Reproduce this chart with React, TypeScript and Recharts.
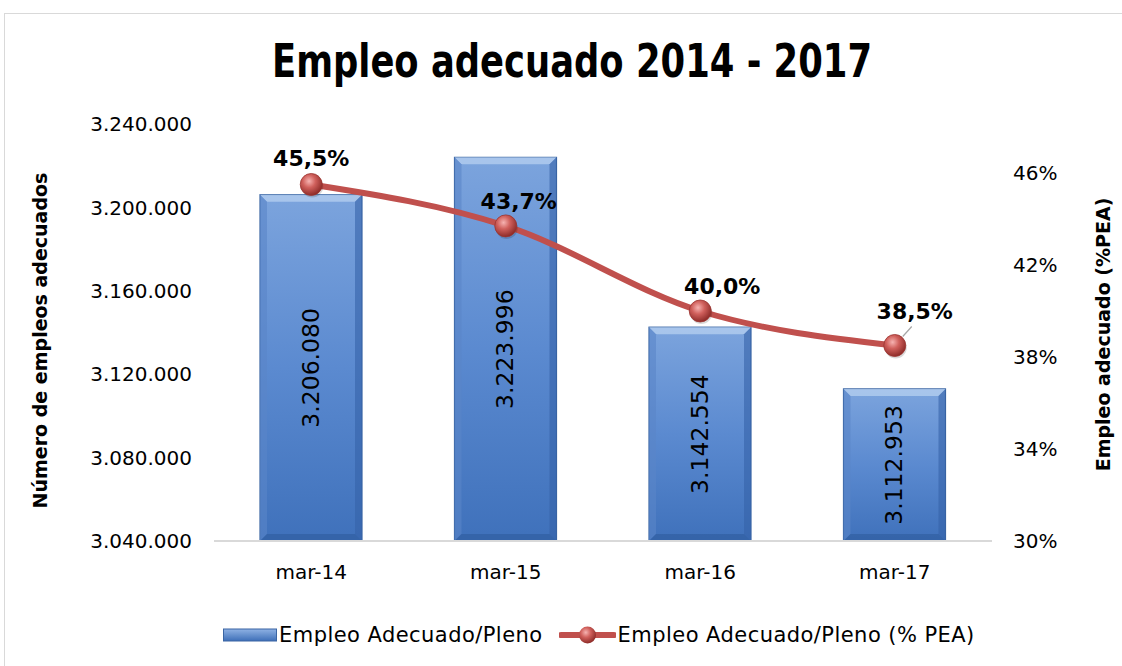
import { Bar, ComposedChart, LabelList, Line, XAxis, YAxis } from "recharts";

const periods = ["mar-14", "mar-15", "mar-16", "mar-17"];
const adequateJobs = [3206080, 3223996, 3142554, 3112953];
const adequateShare = [45.5, 43.7, 40.0, 38.5];
const jobTicks = [3040000, 3080000, 3120000, 3160000, 3200000, 3240000];
const shareTicks = [30, 34, 38, 42, 46];

const data = periods.map((period, i) => ({
  period,
  jobs: adequateJobs[i],
  share: adequateShare[i],
}));

const FONT = "'DejaVu Sans', Tahoma, sans-serif";
const RED = "#c0504d";

// offsets of the % labels relative to their point
const shareLabelShift = [
  { dx: 0, dy: -26 },
  { dx: 13, dy: -24 },
  { dx: 22, dy: -24 },
  { dx: 20, dy: -34 },
];

const fmtThousands = (v: number) => v.toLocaleString("de-DE");

function BevelBar(props: any) {
  const { x, y, width, height } = props;
  if (!height || height <= 0) return null;
  const b = 7;
  return (
    <g>
      <rect x={x} y={y} width={width} height={height} fill="url(#barFill)" stroke="#3a65a3" strokeWidth={1.2} />
      <polygon
        points={`${x},${y} ${x + width},${y} ${x + width - b},${y + b} ${x + b},${y + b}`}
        fill="#b7d0f0"
        opacity={0.75}
      />
      <polygon
        points={`${x},${y} ${x + b},${y + b} ${x + b},${y + height - b} ${x},${y + height}`}
        fill="#5a86c8"
        opacity={0.6}
      />
      <polygon
        points={`${x + width},${y} ${x + width - b},${y + b} ${x + width - b},${y + height - b} ${x + width},${y + height}`}
        fill="#3563a8"
        opacity={0.6}
      />
      <polygon
        points={`${x},${y + height} ${x + b},${y + height - b} ${x + width - b},${y + height - b} ${x + width},${y + height}`}
        fill="#2f5b9c"
        opacity={0.6}
      />
    </g>
  );
}

function BallDot(props: any) {
  const { cx, cy } = props;
  if (cx == null || cy == null) return null;
  return (
    <g>
      <circle cx={cx + 1} cy={cy + 2} r={11} fill="#000" opacity={0.15} />
      <circle cx={cx} cy={cy} r={11} fill="url(#ballFill)" stroke="#9c3330" strokeWidth={0.8} />
    </g>
  );
}

function ShareLabel(props: any) {
  const { x, y, value, index } = props;
  const s = shareLabelShift[index] || { dx: 0, dy: -26 };
  const text = `${Number(value).toFixed(1).replace(".", ",")}%`;
  return (
    <g>
      {index === 3 && (
        <line x1={x + 8} y1={y - 9} x2={x + 17} y2={y - 19} stroke="#a6a6a6" strokeWidth={1.2} />
      )}
      <text
        x={x + s.dx}
        y={y + s.dy}
        textAnchor="middle"
        dominantBaseline="central"
        fontFamily={FONT}
        fontWeight="bold"
        fontSize={22}
        fill="#000"
      >
        {text}
      </text>
    </g>
  );
}

function JobsLabel(props: any) {
  const { x, y, width, height, value } = props;
  const cx = x + width / 2;
  const cy = y + height / 2;
  return (
    <text
      x={cx}
      y={cy}
      transform={`rotate(-90 ${cx} ${cy})`}
      textAnchor="middle"
      dominantBaseline="central"
      fontFamily={FONT}
      fontSize={23.5}
      fill="#000"
    >
      {fmtThousands(value)}
    </text>
  );
}

function Legend() {
  return (
    <div
      style={{
        position: "absolute",
        left: 223,
        top: 623,
        display: "flex",
        alignItems: "center",
        fontFamily: FONT,
        fontSize: 21,
        letterSpacing: 0.45,
        color: "#000",
        whiteSpace: "nowrap",
      }}
    >
      <svg width={54} height={14} style={{ marginRight: 2 }}>
        <defs>
          <linearGradient id="legBar" x1="0" y1="0" x2="0" y2="1">
            <stop offset="0" stopColor="#8fb2e4" />
            <stop offset="1" stopColor="#3e6fb8" />
          </linearGradient>
        </defs>
        <rect x={0.5} y={1} width={53} height={12} fill="url(#legBar)" stroke="#3a65a3" />
      </svg>
      <span style={{ marginRight: 16 }}>Empleo Adecuado/Pleno</span>
      <svg width={57} height={24} style={{ marginRight: 2 }}>
        <defs>
          <radialGradient id="legBall" cx="0.4" cy="0.35" r="0.65">
            <stop offset="0" stopColor="#f6b3b1" />
            <stop offset="0.45" stopColor="#d0605c" />
            <stop offset="1" stopColor="#8e2c29" />
          </radialGradient>
        </defs>
        <line x1={2} y1={12} x2={55} y2={12} stroke={RED} strokeWidth={6} strokeLinecap="round" />
        <circle cx={28.5} cy={12} r={8.5} fill="url(#legBall)" />
      </svg>
      <span>Empleo Adecuado/Pleno (% PEA)</span>
    </div>
  );
}

export default function App() {
  return (
    <div
      style={{
        position: "absolute",
        left: 0,
        top: 0,
        width: 1122,
        height: 666,
        overflow: "hidden",
        background: "#fff",
      }}
    >
      <div
        style={{
          position: "absolute",
          left: 4,
          top: 13,
          width: 1140,
          height: 700,
          border: "1.5px solid #d9d9d9",
        }}
      />
      <svg width={1122} height={100} style={{ position: "absolute", left: 0, top: 0 }}>
        <text
          x={572}
          y={77}
          textAnchor="middle"
          fontFamily={FONT}
          fontWeight="bold"
          fontSize={46}
          textLength={600}
          lengthAdjust="spacingAndGlyphs"
          fill="#000"
        >
          Empleo adecuado 2014 - 2017
        </text>
      </svg>
      <div style={{ position: "absolute", left: 0, top: 0 }}>
        <ComposedChart
          width={1122}
          height={666}
          data={data}
          margin={{ top: 124, right: 40, bottom: 65, left: 24 }}
        >
          <defs>
            <linearGradient id="barFill" x1="0" y1="0" x2="0" y2="1">
              <stop offset="0" stopColor="#7ca4dd" />
              <stop offset="0.5" stopColor="#5b8ad0" />
              <stop offset="1" stopColor="#3f71bb" />
            </linearGradient>
            <radialGradient id="ballFill" cx="0.4" cy="0.35" r="0.65">
              <stop offset="0" stopColor="#f6b3b1" />
              <stop offset="0.45" stopColor="#d0605c" />
              <stop offset="1" stopColor="#8e2c29" />
            </radialGradient>
          </defs>
          <XAxis
            dataKey="period"
            height={60}
            tickLine={false}
            tickSize={0}
            tickMargin={24}
            axisLine={{ stroke: "#d9d9d9", strokeWidth: 2 }}
            tick={{ fontFamily: FONT, fontSize: 20, fill: "#000" }}
          />
          <YAxis
            yAxisId="left"
            width={190}
            domain={[3040000, 3240000]}
            ticks={jobTicks}
            allowDataOverflow
            tickFormatter={fmtThousands}
            axisLine={false}
            tickLine={false}
            tickSize={0}
            tickMargin={22}
            tick={{ fontFamily: FONT, fontSize: 20, fill: "#000" }}
            label={{
              content: ({ viewBox }: any) => {
                const lx = viewBox.x + 16;
                const ly = viewBox.y + viewBox.height / 2 + 8;
                return (
                  <text
                    x={lx}
                    y={ly}
                    transform={`rotate(-90 ${lx} ${ly})`}
                    textAnchor="middle"
                    dominantBaseline="central"
                    fontFamily={FONT}
                    fontWeight="bold"
                    fontSize={19}
                    fill="#000"
                  >
                    Número de empleos adecuados
                  </text>
                );
              },
            }}
          />
          <YAxis
            yAxisId="right"
            orientation="right"
            width={90}
            domain={[30, 48.13]}
            ticks={shareTicks}
            allowDataOverflow
            tickFormatter={(v: number) => `${v}%`}
            axisLine={false}
            tickLine={false}
            tickSize={0}
            tickMargin={21}
            tick={{ fontFamily: FONT, fontSize: 20, fill: "#000", textAnchor: "start" }}
            label={{
              content: ({ viewBox }: any) => {
                const lx = viewBox.x + 111;
                const ly = viewBox.y + viewBox.height / 2 + 2;
                return (
                  <text
                    x={lx}
                    y={ly}
                    transform={`rotate(-90 ${lx} ${ly})`}
                    textAnchor="middle"
                    dominantBaseline="central"
                    fontFamily={FONT}
                    fontWeight="bold"
                    fontSize={19}
                    fill="#000"
                  >
                    Empleo adecuado (%PEA)
                  </text>
                );
              },
            }}
          />
          <Bar
            yAxisId="left"
            dataKey="jobs"
            barSize={102}
            shape={<BevelBar />}
            isAnimationActive={false}
          >
            <LabelList dataKey="jobs" content={<JobsLabel />} />
          </Bar>
          <Line
            yAxisId="right"
            type="monotone"
            dataKey="share"
            stroke={RED}
            strokeWidth={6}
            dot={<BallDot />}
            activeDot={false}
            isAnimationActive={false}
          >
            <LabelList dataKey="share" content={<ShareLabel />} />
          </Line>
        </ComposedChart>
      </div>
      <Legend />
    </div>
  );
}
